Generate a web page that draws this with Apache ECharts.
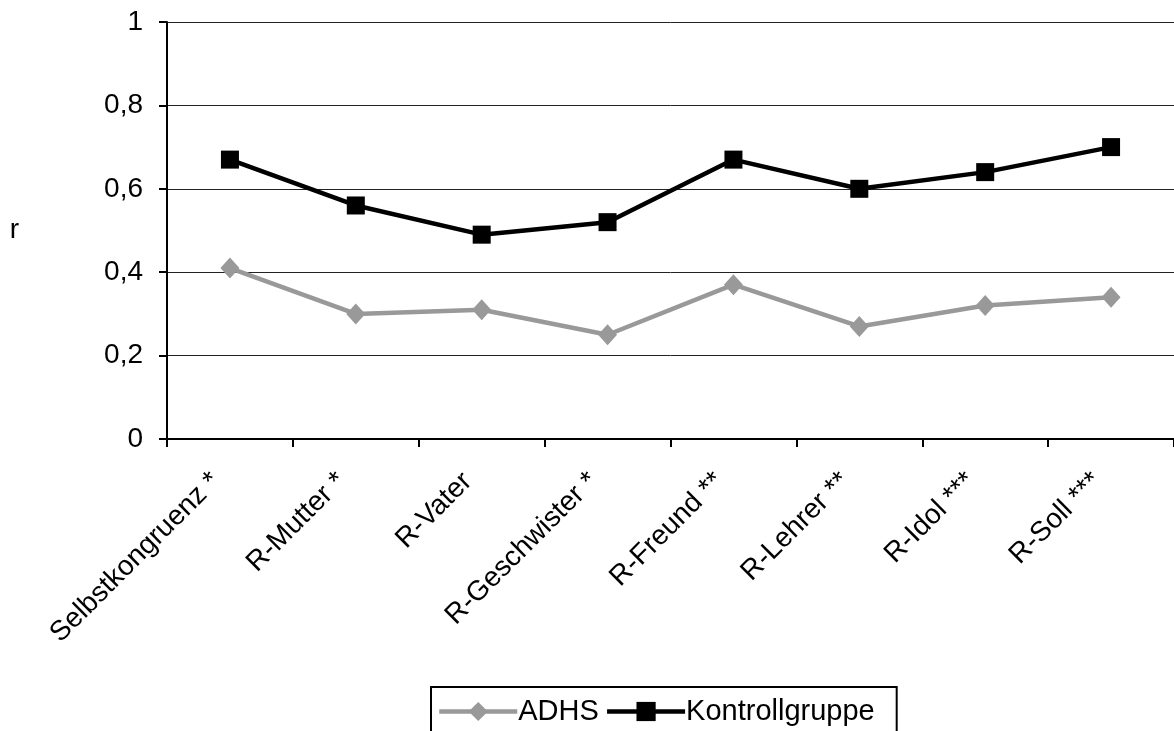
<!DOCTYPE html>
<html>
<head>
<meta charset="utf-8">
<script src="https://cdn.jsdelivr.net/npm/echarts@6/dist/echarts.min.js"></script>
<style>
  html, body { margin: 0; padding: 0; background: #ffffff; }
  #chart { width: 1174px; height: 731px; }
</style>
</head>
<body>
<div id="chart"></div>
<script>
// Correlation r per comparison, two groups
const categories = ['Selbstkongruenz *', 'R-Mutter *', 'R-Vater', 'R-Geschwister *', 'R-Freund **', 'R-Lehrer **', 'R-Idol ***', 'R-Soll ***'];
const adhs = [0.41, 0.30, 0.31, 0.25, 0.37, 0.27, 0.32, 0.34];
const kontrollgruppe = [0.67, 0.56, 0.49, 0.52, 0.67, 0.60, 0.64, 0.70];
const seriesNames = ['ADHS', 'Kontrollgruppe'];
const yMin = 0, yMax = 1, yStep = 0.2;

const FONT = '"Liberation Sans", Arial, sans-serif';
const AXIS_FONT = 28;

const chart = echarts.init(document.getElementById('chart'), null, { renderer: 'canvas' });

chart.setOption({
  animation: false,
  backgroundColor: '#ffffff',
  textStyle: { fontFamily: FONT, color: '#000' },
  grid: { left: 167, top: 22, width: 1011, height: 417, containLabel: false },
  legend: {
    data: seriesNames,
    left: 431,
    top: 687,
    orient: 'horizontal',
    itemWidth: 78,
    itemHeight: 24,
    itemGap: 6,
    padding: [10, 22, 12, 6],
    borderColor: '#000',
    borderWidth: 2,
    lineStyle: { width: 4.5 },
    textStyle: { fontFamily: FONT, fontSize: 29, color: '#000', padding: [0, 0, 0, -4] }
  },
  xAxis: {
    type: 'category',
    data: categories,
    boundaryGap: true,
    axisLine: { show: true, lineStyle: { color: '#000', width: 2 } },
    axisTick: { show: true, length: 8, lineStyle: { color: '#000', width: 2 } },
    splitLine: { show: false },
    axisLabel: {
      interval: 0,
      rotate: 45,
      margin: 24,
      fontSize: AXIS_FONT,
      fontFamily: FONT,
      color: '#000',
      padding: [0, 20, 0, 0],
      hideOverlap: false
    }
  },
  yAxis: {
    type: 'value',
    min: yMin,
    max: yMax,
    interval: yStep,
    name: 'r',
    nameLocation: 'middle',
    nameRotate: 0,
    nameGap: 148,
    nameTextStyle: { fontSize: AXIS_FONT, fontFamily: FONT, color: '#000' },
    axisLine: { show: true, lineStyle: { color: '#000', width: 2 } },
    axisTick: { show: true, length: 8, lineStyle: { color: '#000', width: 2 } },
    splitLine: { show: true, lineStyle: { color: '#222', width: 1 } },
    axisLabel: {
      margin: 24,
      fontSize: AXIS_FONT,
      fontFamily: FONT,
      color: '#000',
      formatter: v => String(Math.round(v * 10) / 10).replace('.', ',')
    }
  },
  series: [
    {
      name: seriesNames[0],
      type: 'line',
      data: adhs,
      symbol: 'diamond',
      symbolSize: [19, 21],
      lineStyle: { color: '#999999', width: 4.5 },
      itemStyle: { color: '#999999' },
      z: 2
    },
    {
      name: seriesNames[1],
      type: 'line',
      data: kontrollgruppe,
      symbol: 'rect',
      symbolSize: 18,
      lineStyle: { color: '#000000', width: 4.5 },
      itemStyle: { color: '#000000' },
      z: 3
    }
  ]
});
</script>
</body>
</html>
